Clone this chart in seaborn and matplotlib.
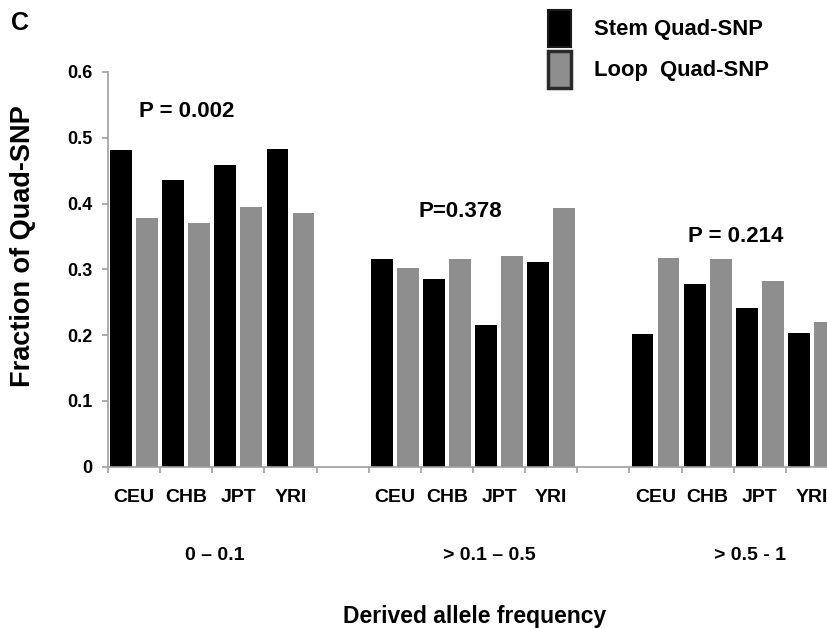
import numpy as np
import pandas as pd
import matplotlib
matplotlib.use("Agg")
import matplotlib.pyplot as plt
import matplotlib.patches as mpatches
import matplotlib.transforms as mtransforms
from matplotlib.ticker import FixedLocator
import seaborn as sns

# ---- data ----
groups = ["0 – 0.1", "> 0.1 – 0.5", "> 0.5 - 1"]
populations = ["CEU", "CHB", "JPT", "YRI"]
series = ["Stem Quad-SNP", "Loop  Quad-SNP"]
stem_values = [
    [0.481, 0.436, 0.459, 0.483],
    [0.315, 0.285, 0.216, 0.311],
    [0.202, 0.278, 0.242, 0.204],
]
loop_values = [
    [0.378, 0.370, 0.395, 0.385],
    [0.302, 0.315, 0.321, 0.393],
    [0.317, 0.315, 0.282, 0.220],
]
p_labels = ["P = 0.002", "P=0.378", "P = 0.214"]
y_ticks = [0, 0.1, 0.2, 0.3, 0.4, 0.5, 0.6]
y_tick_labels = ["0", "0.1", "0.2", "0.3", "0.4", "0.5", "0.6"]

rows = []
for gi, g in enumerate(groups):
    for pi, p in enumerate(populations):
        slot = gi * (len(populations) + 1) + pi
        rows.append(dict(slot=slot, group=g, pop=p, series=series[0], value=stem_values[gi][pi]))
        rows.append(dict(slot=slot, group=g, pop=p, series=series[1], value=loop_values[gi][pi]))
df = pd.DataFrame(rows)

sns.set_theme(style="white")
REG = ['Liberation Sans', 'DejaVu Sans']
plt.rcParams['font.family'] = REG
plt.rcParams['text.color'] = 'black'
plt.rcParams['xtick.labelcolor'] = 'black'
plt.rcParams['ytick.labelcolor'] = 'black'
plt.rcParams['axes.labelcolor'] = 'black'

W, H = 828, 628
fig = plt.figure(figsize=(W / 100, H / 100), dpi=100)
x0, y0px, ytop = 108, 466.7, 72
ax = fig.add_axes([x0 / W, (H - y0px) / H, 730 / W, (y0px - ytop) / H])

sns.barplot(data=df, x="slot", y="value", hue="series", hue_order=series,
            palette=["#000000", "#8e8e8e"], saturation=1, native_scale=True,
            width=1.0, gap=0.16, errorbar=None, edgecolor="none",
            legend=False, ax=ax)

slots = sorted(df["slot"].unique())
ax.set_xlim(-0.5, 13.5)
ax.set_ylim(0, 0.6)
ax.set_xticks(slots)
ax.set_xticklabels(populations * len(groups), fontfamily=REG,
                   fontweight='bold', fontsize=14, color='black')
ax.xaxis.set_minor_locator(FixedLocator(np.arange(-0.5, 14, 1)))
ax.set_yticks(y_ticks)
ax.set_yticklabels(y_tick_labels, fontfamily=REG, fontweight='bold',
                   fontsize=13, color='black')
ax.tick_params(axis='x', which='major', length=0, pad=16)
ax.tick_params(axis='x', which='minor', length=4.5, width=1.2, color='#a0a0a0',
               direction='out', bottom=True)
ax.tick_params(axis='y', which='major', length=4.3, width=1.2, color='#a0a0a0',
               direction='out', left=True, pad=7)
ax.set_xlabel("")
ax.set_ylabel("")
for s in ['top', 'right']:
    ax.spines[s].set_visible(False)
for s in ['left', 'bottom']:
    ax.spines[s].set_color('#a0a0a0')
    ax.spines[s].set_linewidth(1.2)

# group labels
bt = mtransforms.blended_transform_factory(ax.transData, fig.transFigure)
group_x = [1.55, 6.82, 11.81]
for gx, g in zip(group_x, groups):
    ax.text(gx, 1 - 560 / H, g, transform=bt, ha='center', va='baseline',
            fontfamily=REG, fontweight='bold', fontsize=14, color='black')

# p-values
p_pos = [(1.0, 0.531), (6.25, 0.379), (11.54, 0.341)]
for (px, py), lab in zip(p_pos, p_labels):
    ax.text(px, py, lab, ha='center', va='baseline', fontfamily=REG,
            fontweight='bold', fontsize=16, color='black')

# axis titles
fig.text(475 / W, 1 - 623 / H, "Derived allele frequency", ha='center',
         va='baseline', fontfamily=REG, fontweight='bold', fontsize=16.5,
         color='black')
fig.text(23 / W, 1 - 246 / H, "Fraction of Quad-SNP", rotation=90,
         ha='center', va='center', fontfamily=REG, fontweight='bold',
         fontsize=19.5, color='black')
fig.text(11 / W, 1 - 30 / H, "C", ha='left', va='baseline', fontfamily=REG,
         fontweight='bold', fontsize=18, color='black')

# legend
handles = [mpatches.Patch(facecolor='#000000', edgecolor='#1a1a1a', linewidth=1.5),
           mpatches.Patch(facecolor='#8e8e8e', edgecolor='#2a2a2a', linewidth=2.5)]
leg = ax.legend(handles, series, loc='upper left',
                bbox_to_anchor=(548 / W, 1 - 10 / H),
                bbox_transform=fig.transFigure, frameon=False, borderpad=0,
                borderaxespad=0, handlelength=1.05, handleheight=2.2,
                handletextpad=1.05, labelspacing=0.2,
                prop=dict(family=REG, weight='bold', size=15.8))
for t in leg.get_texts():
    t.set_color('black')

fig.savefig("out.png", dpi=100)
